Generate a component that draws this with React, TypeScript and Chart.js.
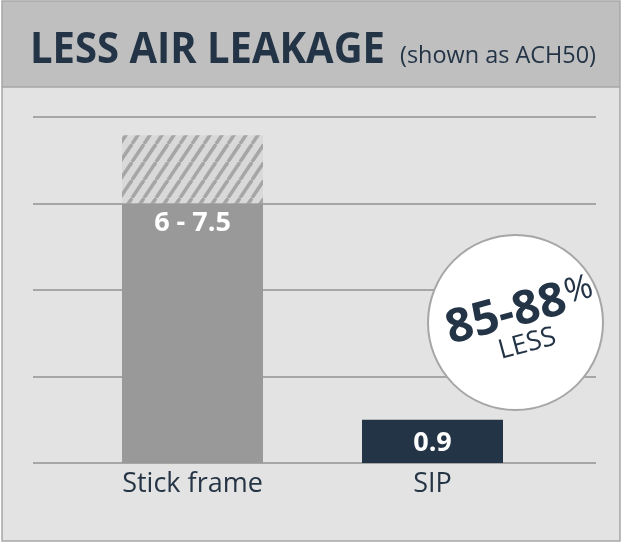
import { useEffect, useRef } from "react";
import { Chart, registerables } from "chart.js";
Chart.register(...registerables);

const categories = ["Stick frame", "SIP"];
const baseValues = [6, 1];
const rangeValues = [1.58, 0];
const barLabels = ["6 - 7.5", "0.9"];
const yTicks = [0, 2, 4, 6, 8];
const titleText = "LESS AIR LEAKAGE";
const subtitleText = "(shown as ACH50)";
const badgeMain = "85-88";
const badgePct = "%";
const badgeSub = "LESS";

const NAVY = "#243447";
const FONT = "'Open Sans', 'DejaVu Sans', sans-serif";

export default function App() {
  const ref = useRef<HTMLCanvasElement | null>(null);
  useEffect(() => {
    const canvas = ref.current!;
    const ctx = canvas.getContext("2d")!;
    const tile = document.createElement("canvas");
    tile.width = 12;
    tile.height = 18;
    const g = tile.getContext("2d")!;
    g.fillStyle = "#d9d9d9";
    g.fillRect(0, 0, 12, 18);
    g.strokeStyle = "#a6a6a6";
    g.lineWidth = 3.5;
    for (let k = -1; k <= 1; k++) {
      g.beginPath();
      g.moveTo(k * 12, 18);
      g.lineTo(k * 12 + 12, 0);
      g.stroke();
    }
    const hatch = ctx.createPattern(tile, "repeat")!;

    const decor = {
      id: "decor",
      beforeDraw(chart: any) {
        const c = chart.ctx;
        c.save();
        c.fillStyle = "#e3e3e3";
        c.fillRect(2, 1, 618, 540);
        c.fillStyle = "#bfbfbf";
        c.fillRect(2, 1, 618, 86);
        c.strokeStyle = "#a6a6a6";
        c.lineWidth = 1.5;
        c.beginPath();
        c.moveTo(2, 87);
        c.lineTo(620, 87);
        c.stroke();
        c.strokeRect(2, 1, 618, 540);
        c.fillStyle = NAVY;
        c.textAlign = "left";
        c.textBaseline = "alphabetic";
        c.font = `bold 43px ${FONT}`;
        c.fillText(titleText, 30, 62.5, 355);
        c.font = `24px ${FONT}`;
        c.fillText(subtitleText, 400, 62.5, 196);
        const ys = chart.scales.y;
        c.strokeStyle = "#a6a6a6";
        c.lineWidth = 2;
        for (const t of yTicks) {
          const py = Math.round(ys.getPixelForValue(t));
          c.beginPath();
          c.moveTo(33, py);
          c.lineTo(596, py);
          c.stroke();
        }
        c.restore();
      },
      afterDatasetsDraw(chart: any) {
        const c = chart.ctx;
        const meta = chart.getDatasetMeta(0);
        c.save();
        c.fillStyle = "#ffffff";
        c.font = `bold 27px ${FONT}`;
        c.textAlign = "center";
        c.textBaseline = "alphabetic";
        meta.data.forEach((el: any, i: number) => {
          const h = el.base - el.y;
          const y = h < 60 ? el.y + h / 2 + 9.5 : el.y + 27;
          c.fillText(barLabels[i], el.x, y);
        });
        c.restore();
      },
      afterDraw(chart: any) {
        const c = chart.ctx;
        c.save();
        c.beginPath();
        c.arc(515.5, 322.5, 87.5, 0, Math.PI * 2);
        c.fillStyle = "#ffffff";
        c.fill();
        c.strokeStyle = "#a6a6a6";
        c.lineWidth = 2;
        c.stroke();
        c.translate(515.5, 322.5);
        c.rotate((-15 * Math.PI) / 180);
        c.fillStyle = NAVY;
        c.textBaseline = "alphabetic";
        c.textAlign = "left";
        c.font = `bold 47px ${FONT}`;
        const w1 = c.measureText(badgeMain).width;
        const u0 = -7 - w1 / 2;
        c.fillText(badgeMain, u0, 4);
        c.font = `34px ${FONT}`;
        c.fillText(badgePct, u0 + w1 + 1, -5);
        c.font = `27px ${FONT}`;
        c.textAlign = "center";
        c.fillText(badgeSub, 5.8, 31.5);
        c.restore();
      },
    };

    const chart = new Chart(canvas, {
      type: "bar",
      data: {
        labels: categories,
        datasets: [
          {
            data: baseValues,
            backgroundColor: ["#999999", NAVY],
            barPercentage: 0.5875,
            categoryPercentage: 1,
            borderWidth: 0,
          },
          {
            data: rangeValues,
            backgroundColor: hatch as any,
            barPercentage: 0.5875,
            categoryPercentage: 1,
            borderWidth: 0,
          },
        ],
      },
      options: {
        responsive: false,
        animation: false,
        layout: { padding: { left: 72.5, right: 70.5, top: 117, bottom: 37.6 } },
        plugins: { legend: { display: false }, tooltip: { enabled: false } },
        scales: {
          x: {
            stacked: true,
            grid: { display: false, drawTicks: false, tickLength: 0 },
            border: { display: false },
            ticks: { color: "#253545", padding: 5, font: { family: FONT, size: 27 } },
          },
          y: {
            stacked: true,
            display: false,
            min: 0,
            max: 8,
            ticks: { stepSize: 2 },
          },
        },
      },
      plugins: [decor],
    });
    return () => chart.destroy();
  }, []);
  return (
    <div style={{ position: "absolute", left: 0, top: 0, width: 623, height: 543 }}>
      <canvas ref={ref} width={623} height={543} style={{ display: "block" }} />
    </div>
  );
}
